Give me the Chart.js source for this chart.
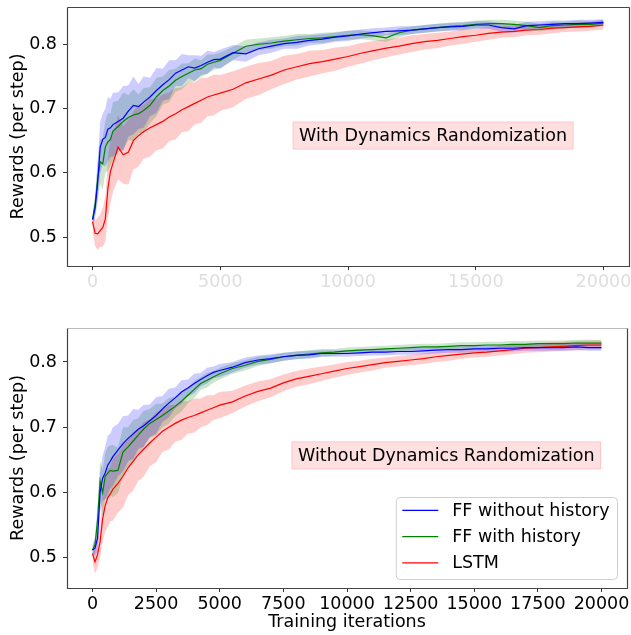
<!DOCTYPE html>
<html>
<head>
<meta charset="utf-8">
<script src="https://cdn.jsdelivr.net/npm/chart.js@4.4.1/dist/chart.umd.min.js"></script>
<style>
  html, body { margin: 0; padding: 0; background: #ffffff; }
  body { width: 631px; height: 635px; position: relative; overflow: hidden; }
  .wrap { position: absolute; left: 0; width: 631px; }
  canvas { display: block; }
</style>
</head>
<body>
<div class="wrap" style="top:0px;height:300px;"><canvas id="top" width="631" height="300"></canvas></div>
<div class="wrap" style="top:305px;height:330px;"><canvas id="bottom" width="631" height="330"></canvas></div>
<script>
// ---------------- DATA ----------------
const iterations = [
  0,100,200,300,400,500,600,700,800,1000,
  1200,1400,1600,1800,2000,2250,2500,2750,3000,3250,
  3500,3750,4000,4250,4500,4750,5000,5500,6000,6500,
  7000,7500,8000,8500,9000,9500,10000,10500,11000,11500,
  12000,12500,13000,13500,14000,14500,15000,15500,16000,16500,
  17000,17500,18000,18500,19000,19500,20000
];
const seriesNames = ["FF without history", "FF with history", "LSTM"];

// Top panel: With Dynamics Randomization
const withDR_ffNoHist = [
  0.527,0.545,0.585,0.640,0.652,0.655,0.668,0.670,0.675,0.680,
  0.685,0.696,0.705,0.703,0.710,0.718,0.728,0.737,0.745,0.755,
  0.760,0.765,0.763,0.767,0.772,0.776,0.777,0.787,0.785,0.793,
  0.797,0.801,0.803,0.806,0.808,0.811,0.813,0.816,0.818,0.820,
  0.821,0.822,0.824,0.826,0.827,0.828,0.830,0.830,0.826,0.824,
  0.829,0.830,0.831,0.832,0.832,0.833,0.834
];
const withDR_ffHist = [
  0.527,0.550,0.590,0.617,0.614,0.640,0.648,0.652,0.665,0.672,
  0.680,0.686,0.690,0.692,0.697,0.705,0.718,0.728,0.735,0.744,
  0.750,0.755,0.760,0.762,0.769,0.772,0.775,0.786,0.797,0.800,
  0.802,0.805,0.807,0.809,0.810,0.812,0.814,0.815,0.813,0.810,
  0.818,0.822,0.824,0.826,0.828,0.829,0.831,0.832,0.832,0.831,
  0.829,0.826,0.829,0.830,0.831,0.831,0.833
];
const withDR_lstm = [
  0.524,0.506,0.505,0.510,0.515,0.528,0.575,0.602,0.615,0.640,
  0.628,0.632,0.650,0.658,0.664,0.670,0.675,0.680,0.687,0.692,
  0.698,0.703,0.708,0.713,0.718,0.721,0.724,0.730,0.740,0.746,
  0.752,0.760,0.765,0.770,0.773,0.777,0.781,0.786,0.790,0.794,
  0.797,0.801,0.804,0.806,0.809,0.812,0.814,0.817,0.819,0.820,
  0.822,0.823,0.825,0.826,0.827,0.828,0.830
];
const withDR_ffNoHistSpread = [
  0.010,0.015,0.030,0.040,0.040,0.045,0.050,0.045,0.050,0.045,
  0.050,0.040,0.045,0.035,0.040,0.030,0.035,0.025,0.030,0.020,
  0.025,0.018,0.020,0.015,0.018,0.012,0.015,0.012,0.012,0.010,
  0.010,0.008,0.010,0.008,0.008,0.007,0.008,0.007,0.007,0.006,
  0.007,0.006,0.006,0.006,0.006,0.006,0.006,0.006,0.007,0.006,
  0.006,0.006,0.006,0.005,0.006,0.005,0.005
];
const withDR_ffHistSpread = [
  0.010,0.015,0.030,0.035,0.040,0.040,0.045,0.040,0.045,0.040,
  0.045,0.035,0.040,0.030,0.035,0.028,0.030,0.022,0.025,0.018,
  0.020,0.015,0.018,0.013,0.015,0.012,0.012,0.010,0.010,0.009,
  0.009,0.008,0.009,0.007,0.008,0.007,0.007,0.007,0.007,0.006,
  0.007,0.006,0.006,0.006,0.006,0.006,0.006,0.006,0.006,0.006,
  0.006,0.006,0.006,0.005,0.006,0.005,0.005
];
const withDR_lstmSpread = [
  0.015,0.020,0.025,0.025,0.030,0.035,0.045,0.050,0.045,0.050,
  0.045,0.050,0.045,0.048,0.042,0.045,0.040,0.042,0.038,0.040,
  0.035,0.038,0.033,0.035,0.030,0.032,0.028,0.028,0.025,0.025,
  0.022,0.022,0.020,0.020,0.018,0.018,0.016,0.016,0.015,0.014,
  0.013,0.013,0.012,0.012,0.011,0.011,0.010,0.010,0.009,0.009,
  0.008,0.008,0.008,0.007,0.007,0.007,0.007
];

// Bottom panel: Without Dynamics Randomization
const noDR_ffNoHist = [
  0.512,0.515,0.530,0.600,0.622,0.630,0.642,0.648,0.655,0.665,
  0.675,0.683,0.690,0.697,0.702,0.710,0.718,0.728,0.737,0.745,
  0.754,0.760,0.767,0.773,0.779,0.784,0.787,0.792,0.799,0.803,
  0.805,0.808,0.810,0.811,0.813,0.813,0.813,0.814,0.815,0.815,
  0.816,0.816,0.817,0.818,0.819,0.819,0.820,0.820,0.821,0.821,
  0.822,0.822,0.822,0.822,0.823,0.822,0.822
];
const noDR_ffHist = [
  0.512,0.520,0.558,0.618,0.600,0.625,0.630,0.634,0.633,0.634,
  0.662,0.670,0.679,0.688,0.697,0.706,0.712,0.718,0.725,0.732,
  0.740,0.749,0.758,0.767,0.772,0.777,0.782,0.790,0.795,0.801,
  0.804,0.808,0.810,0.812,0.814,0.815,0.817,0.818,0.819,0.820,
  0.821,0.822,0.823,0.823,0.824,0.825,0.825,0.826,0.826,0.827,
  0.827,0.828,0.828,0.828,0.829,0.829,0.829
];
const noDR_lstm = [
  0.507,0.494,0.505,0.525,0.560,0.580,0.592,0.598,0.605,0.614,
  0.625,0.638,0.648,0.658,0.666,0.676,0.685,0.694,0.700,0.706,
  0.711,0.715,0.718,0.722,0.726,0.730,0.734,0.739,0.748,0.755,
  0.760,0.768,0.774,0.778,0.782,0.786,0.790,0.793,0.796,0.799,
  0.801,0.803,0.805,0.808,0.810,0.812,0.814,0.815,0.817,0.819,
  0.821,0.822,0.823,0.824,0.825,0.826,0.826
];
const noDR_ffNoHistSpread = [
  0.008,0.012,0.020,0.030,0.035,0.040,0.045,0.042,0.045,0.040,
  0.042,0.035,0.038,0.030,0.032,0.025,0.028,0.020,0.022,0.016,
  0.018,0.013,0.015,0.010,0.012,0.009,0.010,0.008,0.008,0.007,
  0.007,0.006,0.006,0.006,0.005,0.005,0.005,0.005,0.005,0.005,
  0.005,0.005,0.005,0.005,0.005,0.005,0.005,0.005,0.005,0.005,
  0.005,0.005,0.005,0.005,0.005,0.005,0.005
];
const noDR_ffHistSpread = [
  0.008,0.012,0.025,0.030,0.035,0.035,0.040,0.038,0.040,0.035,
  0.038,0.030,0.032,0.026,0.028,0.022,0.024,0.018,0.020,0.015,
  0.016,0.012,0.013,0.010,0.011,0.009,0.009,0.008,0.008,0.007,
  0.006,0.006,0.006,0.006,0.006,0.005,0.005,0.005,0.005,0.005,
  0.005,0.005,0.005,0.005,0.005,0.005,0.005,0.005,0.005,0.005,
  0.005,0.005,0.005,0.005,0.005,0.005,0.005
];
const noDR_lstmSpread = [
  0.012,0.018,0.020,0.025,0.035,0.040,0.045,0.042,0.048,0.045,
  0.048,0.042,0.045,0.040,0.042,0.036,0.038,0.032,0.034,0.028,
  0.030,0.025,0.026,0.022,0.023,0.019,0.020,0.017,0.016,0.015,
  0.014,0.013,0.012,0.012,0.011,0.010,0.010,0.009,0.009,0.008,
  0.008,0.008,0.008,0.008,0.008,0.007,0.007,0.007,0.007,0.007,
  0.007,0.007,0.007,0.007,0.007,0.007,0.007
];

const yTicks = [0.5, 0.6, 0.7, 0.8];
const xTicksTop = [0, 5000, 10000, 15000, 20000];
const xTicksBottom = [0, 2500, 5000, 7500, 10000, 12500, 15000, 17500, 20000];
const annotationTop = "With Dynamics Randomization";
const annotationBottom = "Without Dynamics Randomization";
const yAxisTitle = "Rewards (per step)";
const xAxisTitle = "Training iterations";

// ---------------- STYLE ----------------
const lineColors = ["#0000ff", "#008000", "#ff0000"];
const bandColors = ["rgba(0,0,255,0.2)", "rgba(0,128,0,0.2)", "rgba(255,0,0,0.2)"];
const FONT = "'DejaVu Sans', 'Liberation Sans', sans-serif";
const FS = 17.5;
Chart.defaults.font.family = FONT;
Chart.defaults.font.size = FS;
Chart.defaults.color = "#000";

function pts(ys) { return iterations.map((x, i) => ({ x: x, y: ys[i] })); }
function shifted(ys, sp, sign) { return iterations.map((x, i) => ({ x: x, y: ys[i] + sign * sp[i] })); }

function buildDatasets(means, spreads) {
  const ds = [];
  means.forEach((m, i) => {
    ds.push({ label: seriesNames[i], data: pts(m), borderColor: lineColors[i], borderWidth: 1.2,
      pointRadius: 0, fill: false, tension: 0 });
  });
  means.forEach((m, i) => {
    ds.push({ label: "lo" + i, data: shifted(m, spreads[i], -1), borderWidth: 0, borderColor: "rgba(0,0,0,0)",
      pointRadius: 0, fill: false });
    ds.push({ label: "hi" + i, data: shifted(m, spreads[i], 1), borderWidth: 0, borderColor: "rgba(0,0,0,0)",
      pointRadius: 0, fill: "-1", backgroundColor: bandColors[i] });
  });
  return ds;
}

function framePlugin(cfg) {
  return {
    id: "frame" + cfg.id,
    afterDraw(chart) {
      const ctx = chart.ctx;
      const a = chart.chartArea;
      const xs = chart.scales.x, ys = chart.scales.y;
      ctx.save();
      // annotation box
      ctx.font = FS + "px " + FONT;
      const tw = ctx.measureText(cfg.note).width;
      const cx = xs.getPixelForValue(cfg.noteX), cy = ys.getPixelForValue(cfg.noteY);
      const bw = tw + 13, bh = 28;
      ctx.fillStyle = "rgba(255,0,0,0.12)";
      ctx.strokeStyle = "rgba(255,0,0,0.12)";
      ctx.lineWidth = 1;
      ctx.fillRect(cx - bw / 2, cy - bh / 2, bw, bh);
      ctx.strokeRect(cx - bw / 2 + 0.5, cy - bh / 2 + 0.5, bw - 1, bh - 1);
      ctx.fillStyle = "#000";
      ctx.textAlign = "center";
      ctx.textBaseline = "middle";
      ctx.fillText(cfg.note, cx, cy + 1);
      // legend
      if (cfg.legend) {
        let maxW = 0;
        seriesNames.forEach(n => { maxW = Math.max(maxW, ctx.measureText(n).width); });
        const w = 6.5 + 36 + 14 + maxW + 7.5;
        const h = 82;
        const right = a.right - 10, bottom = a.bottom - 9;
        const left = right - w, top = bottom - h;
        ctx.beginPath();
        ctx.roundRect(left + 0.5, top + 0.5, w, h, 4);
        ctx.fillStyle = "rgba(255,255,255,0.8)";
        ctx.fill();
        ctx.strokeStyle = "#d0d0d0";
        ctx.lineWidth = 1;
        ctx.stroke();
        seriesNames.forEach((n, i) => {
          const y = top + 13.3 + i * 26.3;
          ctx.strokeStyle = lineColors[i];
          ctx.lineWidth = 1.2;
          ctx.beginPath();
          ctx.moveTo(left + 6.5, y);
          ctx.lineTo(left + 42.5, y);
          ctx.stroke();
          ctx.fillStyle = "#000";
          ctx.textAlign = "left";
          ctx.textBaseline = "middle";
          ctx.fillText(n, left + 56.5, y + 1);
        });
      }
      // frame
      ctx.lineWidth = 1.2;
      const L = Math.round(a.left) + 0.5, R = Math.round(a.right) + 0.5;
      const T = Math.round(a.top) + 0.5, B = Math.round(a.bottom) + 0.5;
      ctx.strokeStyle = cfg.topColor;
      ctx.beginPath(); ctx.moveTo(L, T); ctx.lineTo(R, T); ctx.stroke();
      ctx.strokeStyle = "#444";
      ctx.beginPath(); ctx.moveTo(L, T); ctx.lineTo(L, B); ctx.lineTo(R, B); ctx.lineTo(R, T); ctx.stroke();
      ctx.restore();
    }
  };
}

function makeChart(id, cfg) {
  return new Chart(document.getElementById(id), {
    type: "line",
    data: { datasets: buildDatasets(cfg.means, cfg.spreads) },
    options: {
      responsive: false,
      animation: false,
      devicePixelRatio: 1,
      layout: { padding: cfg.padding },
      plugins: { legend: { display: false }, tooltip: { enabled: false } },
      scales: {
        x: {
          type: "linear",
          min: -1000, max: 21000,
          afterBuildTicks: s => { s.ticks = cfg.xTicks.map(v => ({ value: v })); },
          afterFit: s => { s.height = cfg.xHeight; s.paddingLeft = 0; s.paddingRight = 0; },
          border: { display: false },
          grid: { drawOnChartArea: false, drawTicks: true, tickLength: 4, color: "#333", lineWidth: 1 },
          ticks: { color: cfg.xTickColor, padding: 2, maxRotation: 0, autoSkip: false,
            callback: v => String(v) },
          title: cfg.xTitle ? { display: true, text: cfg.xTitle, color: "#000", padding: { top: 2, bottom: 2 }, font: { size: FS } } : { display: false }
        },
        y: {
          type: "linear",
          min: cfg.yMin, max: cfg.yMax,
          afterBuildTicks: s => { s.ticks = yTicks.map(v => ({ value: v })); },
          afterFit: s => { s.width = 67; s.paddingTop = 0; s.paddingBottom = 0; },
          border: { display: false },
          grid: { drawOnChartArea: false, drawTicks: true, tickLength: 4, color: "#333", lineWidth: 1 },
          ticks: { color: "#000", padding: 6, callback: v => v.toFixed(1) },
          title: { display: true, text: yAxisTitle, color: "#000", padding: { top: 8, bottom: 8 }, font: { size: FS } }
        }
      }
    },
    plugins: [framePlugin(cfg)]
  });
}

makeChart("top", {
  id: "top",
  means: [withDR_ffNoHist, withDR_ffHist, withDR_lstm],
  spreads: [withDR_ffNoHistSpread, withDR_ffHistSpread, withDR_lstmSpread],
  padding: { top: 7, right: 2, left: 0, bottom: 0 },
  xHeight: 34, xTicks: xTicksTop, xTickColor: "#dedede", xTitle: null,
  yMin: 0.455, yMax: 0.858,
  note: annotationTop, noteX: 13330, noteY: 0.658,
  topColor: "#444", legend: false
});

makeChart("bottom", {
  id: "bottom",
  means: [noDR_ffNoHist, noDR_ffHist, noDR_lstm],
  spreads: [noDR_ffNoHistSpread, noDR_ffHistSpread, noDR_lstmSpread],
  padding: { top: 23, right: 4, left: 0, bottom: 0 },
  xHeight: 47, xTicks: xTicksBottom, xTickColor: "#000", xTitle: xAxisTitle,
  yMin: 0.454, yMax: 0.852,
  note: annotationBottom, noteX: 13900, noteY: 0.657,
  topColor: "#bbbbbb", legend: true
});
</script>
</body>
</html>
